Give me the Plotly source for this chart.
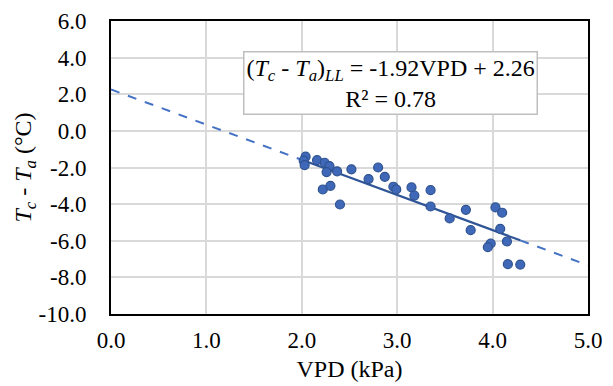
import plotly.graph_objects as go

vpd = [2.04, 2.02, 2.03, 2.16, 2.24, 2.29, 2.26, 2.37, 2.52, 2.22, 2.30, 2.40,
       2.70, 2.80, 2.87, 2.96, 2.99, 3.15, 3.18, 3.35, 3.35, 3.55, 3.72, 3.77,
       4.03, 4.10, 4.08, 3.98, 3.95, 4.15, 4.16, 4.29]
dt = [-1.41, -1.63, -1.87, -1.60, -1.74, -1.92, -2.25, -2.21, -2.10, -3.20, -3.00, -4.02,
      -2.63, -2.00, -2.51, -3.05, -3.20, -3.09, -3.53, -3.24, -4.13, -4.78, -4.31, -5.42,
      -4.18, -4.47, -5.35, -6.15, -6.35, -6.04, -7.28, -7.30]
slope = -1.92
intercept = 2.26
r2 = 0.78
x_ticks = [0, 1, 2, 3, 4, 5]
x_labels = ["0.0", "1.0", "2.0", "3.0", "4.0", "5.0"]
y_ticks = [6, 4, 2, 0, -2, -4, -6, -8, -10]
y_labels = ["6.0", "4.0", "2.0", "0.0", "-2.0", "-4.0", "-6.0", "-8.0", "-10.0"]

FONT = "Liberation Serif"

xmin, xmax = min(vpd), max(vpd)

def f(x):
    return slope * x + intercept

fig = go.Figure()
fig.add_trace(go.Scatter(x=[0, xmin], y=[f(0), f(xmin)], mode="lines",
                         line=dict(color="#4472C4", width=2, dash="dash"), hoverinfo="skip"))
fig.add_trace(go.Scatter(x=[xmax, 5], y=[f(xmax), f(5)], mode="lines",
                         line=dict(color="#4472C4", width=2, dash="dash"), hoverinfo="skip"))
fig.add_trace(go.Scatter(x=[xmin, xmax], y=[f(xmin), f(xmax)], mode="lines",
                         line=dict(color="#2F5597", width=2.2), hoverinfo="skip"))
fig.add_trace(go.Scatter(x=vpd, y=dt, mode="markers",
                         marker=dict(size=9, color="#3F68B8", line=dict(color="#2F528F", width=1.2))))

fig.add_annotation(
    xref="paper", yref="paper", x=0.585, y=0.79, xanchor="center", yanchor="middle",
    text=("(<i>T<sub>c</sub></i> - <i>T<sub>a</sub></i>)<sub><i>LL</i></sub> = -1.92VPD + 2.26"
          "<br>R² = " + f"{r2:.2f}"),
    showarrow=False, align="center",
    font=dict(family=FONT, size=24, color="black"),
    bgcolor="white", bordercolor="#BFBFBF", borderwidth=1.5, borderpad=2,
)

tickfont = dict(family=FONT, size=23, color="black")
titlefont = dict(family=FONT, size=24, color="black")

fig.update_layout(
    width=613, height=386,
    margin=dict(l=111, r=25, t=21, b=72),
    paper_bgcolor="white", plot_bgcolor="white",
    showlegend=False,
    font=dict(family=FONT, size=23, color="black"),
    xaxis=dict(range=[0, 5], tickvals=x_ticks, ticktext=x_labels, tickfont=tickfont,
               ticklabelstandoff=4, automargin=False,
               showgrid=True, gridcolor="#D9D9D9", gridwidth=1.5,
               showline=True, linecolor="black", linewidth=2, mirror=True,
               zeroline=False, ticks="",
               title=dict(text="VPD (kPa)", font=titlefont, standoff=9)),
    yaxis=dict(range=[-10, 6], tickvals=y_ticks, ticktext=y_labels, tickfont=tickfont,
               ticklabelstandoff=18, automargin=False,
               showgrid=True, gridcolor="#D9D9D9", gridwidth=1.5,
               showline=True, linecolor="black", linewidth=2, mirror=True,
               zeroline=False, ticks="",
               title=dict(text="<i>T<sub>c</sub></i> - <i>T<sub>a</sub></i> (°C)", font=titlefont, standoff=0)),
)

fig.write_html("out.html")
